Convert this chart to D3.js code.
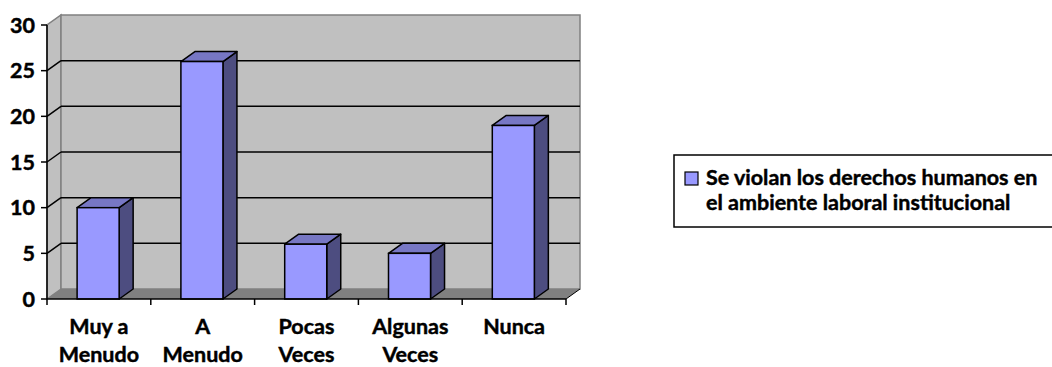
<!DOCTYPE html>
<html>
<head>
<meta charset="utf-8">
<script src="https://cdn.jsdelivr.net/npm/d3@7"></script>
<style>
  html, body { margin: 0; padding: 0; background: #fff; }
  svg { display: block; }
  text { font-family: Lato, "DejaVu Sans", sans-serif; font-weight: 700; fill: #000; stroke: #000; stroke-width: 0.45px; }
</style>
</head>
<body>
<svg id="chart" width="1052" height="367"></svg>
<script>
const categories = ["Muy a\nMenudo", "A\nMenudo", "Pocas\nVeces", "Algunas\nVeces", "Nunca"];
const values = [10, 26, 6, 5, 19];
const yTicks = [0, 5, 10, 15, 20, 25, 30];
const seriesName = ["Se violan los derechos humanos en", "el ambiente laboral institucional"];

(function () {
const svg = d3.select("#chart");
const pLeft = 47, pRight = 566, pBase = 299, pTop = 25;
const dx = 14, dy = -10;
const fs = 21.5;

const x = d3.scaleBand().domain(categories).range([pLeft, pRight]).padding(0);
const y = d3.scaleLinear().domain([0, 30]).range([pBase, pTop]);

const g = svg.append("g");
const pts = a => a.map(p => p.join(",")).join(" ");

// left side wall
g.append("polygon")
  .attr("points", pts([[pLeft, y(0)], [pLeft + dx, y(0) + dy], [pLeft + dx, y(30) + dy], [pLeft, y(30)]]))
  .attr("fill", "#C0C0C0").attr("stroke", "#808080").attr("stroke-width", 1.5);

// back wall
g.append("rect")
  .attr("x", pLeft + dx).attr("y", y(30) + dy)
  .attr("width", pRight - pLeft).attr("height", y(0) - y(30))
  .attr("fill", "#C0C0C0").attr("stroke", "#808080").attr("stroke-width", 1.5);

// floor
g.append("polygon")
  .attr("points", pts([[pLeft, y(0)], [pRight, y(0)], [pRight + dx, y(0) + dy], [pLeft + dx, y(0) + dy]]))
  .attr("fill", "#808080");

// gridlines
const grid = yTicks.filter(v => v > 0 && v < 30);
g.selectAll(".gridBack").data(grid).enter().append("line")
  .attr("x1", pLeft + dx).attr("x2", pRight + dx)
  .attr("y1", d => y(d) + dy).attr("y2", d => y(d) + dy)
  .attr("stroke", "#000").attr("stroke-width", 1.5);
g.selectAll(".gridSide").data(grid).enter().append("line")
  .attr("x1", pLeft).attr("x2", pLeft + dx)
  .attr("y1", d => y(d)).attr("y2", d => y(d) + dy)
  .attr("stroke", "#000").attr("stroke-width", 1.5);

// bars
const bw = x.bandwidth() * 0.405;
const off = x.bandwidth() * 0.29;
const bars = g.selectAll(".bar").data(categories.map((c, i) => ({ c, v: values[i] }))).enter().append("g");
bars.each(function (d) {
  const s = d3.select(this);
  const x0 = x(d.c) + off, x1 = x0 + bw;
  const yt = y(d.v), yb = y(0);
  s.append("polygon")
    .attr("points", pts([[x1, yb], [x1 + dx, yb + dy], [x1 + dx, yt + dy], [x1, yt]]))
    .attr("fill", "#4D4D80").attr("stroke", "#000").attr("stroke-width", 1.5).attr("stroke-linejoin", "round");
  s.append("polygon")
    .attr("points", pts([[x0, yt], [x1, yt], [x1 + dx, yt + dy], [x0 + dx, yt + dy]]))
    .attr("fill", "#7777C4").attr("stroke", "#000").attr("stroke-width", 1.5).attr("stroke-linejoin", "round");
  s.append("rect")
    .attr("x", x0).attr("y", yt).attr("width", bw).attr("height", yb - yt)
    .attr("fill", "#9999FF").attr("stroke", "#000").attr("stroke-width", 1.5);
});

// axes
g.append("line").attr("x1", pLeft).attr("x2", pLeft).attr("y1", y(0)).attr("y2", y(30))
  .attr("stroke", "#000").attr("stroke-width", 1.5);
g.append("line").attr("x1", pLeft).attr("x2", pRight).attr("y1", y(0)).attr("y2", y(0))
  .attr("stroke", "#000").attr("stroke-width", 1.5);
g.append("line").attr("x1", pRight).attr("x2", pRight + dx).attr("y1", y(0)).attr("y2", y(0) + dy)
  .attr("stroke", "#000").attr("stroke-width", 1);

g.selectAll(".yt").data(yTicks).enter().append("line")
  .attr("x1", pLeft - 6).attr("x2", pLeft).attr("y1", d => y(d)).attr("y2", d => y(d))
  .attr("stroke", "#000").attr("stroke-width", 1.5);
g.selectAll(".ytl").data(yTicks).enter().append("text")
  .attr("x", pLeft - 12).attr("y", d => y(d)).attr("dy", "0.36em")
  .attr("text-anchor", "end").attr("font-size", fs).text(d => d);

const bounds = categories.map(c => x(c)).concat([pRight]);
g.selectAll(".xt").data(bounds).enter().append("line")
  .attr("x1", d => d).attr("x2", d => d).attr("y1", y(0)).attr("y2", y(0) + 6)
  .attr("stroke", "#000").attr("stroke-width", 1.5);

const xl = g.selectAll(".xl").data(categories).enter().append("text")
  .attr("text-anchor", "middle").attr("font-size", fs);
xl.each(function (c) {
  const t = d3.select(this);
  c.split("\n").forEach((line, i) => {
    t.append("tspan").attr("x", x(c) + x.bandwidth() / 2).attr("y", 334 + i * 28).text(line);
  });
});

// legend
const lg = svg.append("g");
lg.append("rect").attr("x", 674).attr("y", 155).attr("width", 400).attr("height", 72)
  .attr("fill", "#fff").attr("stroke", "#000").attr("stroke-width", 1.5);
lg.append("rect").attr("x", 685).attr("y", 172).attr("width", 13).attr("height", 13)
  .attr("fill", "#9999FF").attr("stroke", "#000").attr("stroke-width", 1.2);
seriesName.forEach((s, i) => {
  lg.append("text").attr("x", 706).attr("y", 185 + i * 25).attr("font-size", fs).text(s);
});
})();
</script>
</body>
</html>
